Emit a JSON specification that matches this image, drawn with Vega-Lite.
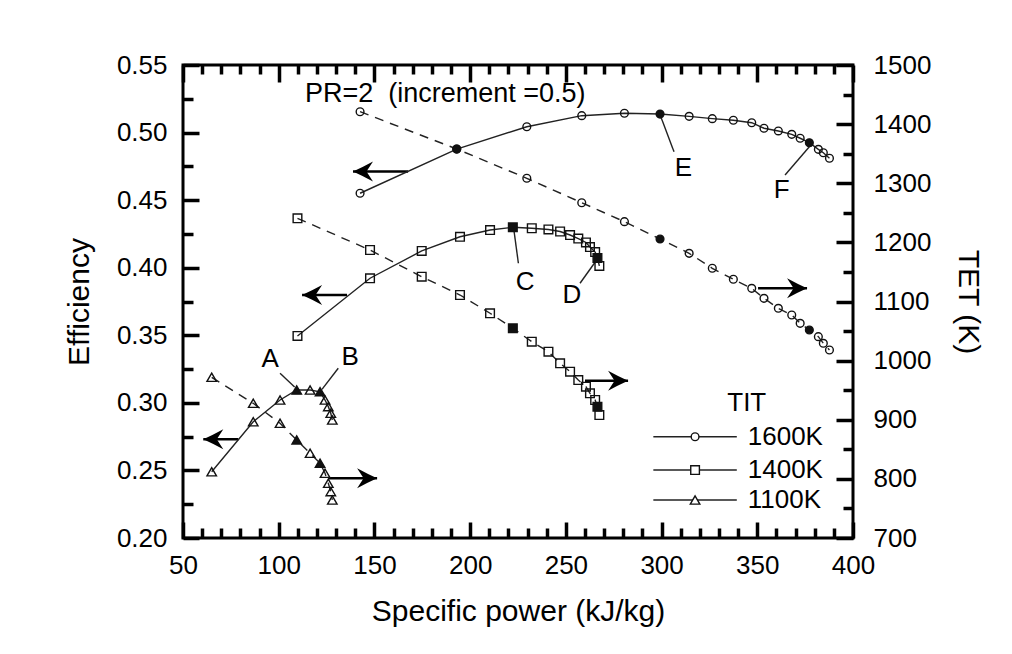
{
  "$schema": "https://vega.github.io/schema/vega-lite/v6.json",
  "width": 670,
  "height": 473,
  "autosize": {"type": "none"},
  "padding": {"left": 183, "top": 65, "right": 159, "bottom": 116},
  "background": "white",
  "config": {
    "view": {"stroke": "black", "strokeWidth": 3},
    "font": "Liberation Sans",
    "axis": {
      "labelFont": "Liberation Sans",
      "labelFontSize": 26,
      "labelColor": "black",
      "titleFont": "Liberation Sans",
      "titleFontSize": 30,
      "titleFontWeight": "normal",
      "titleColor": "black",
      "grid": false,
      "domain": false,
      "tickColor": "black",
      "tickWidth": 3.5,
      "labelOverlap": false,
      "labelFlush": false
    }
  },
  "datasets": {
    "curves": [
      {"tit": "1600K", "pr": 2.0, "power": 142.5, "eff": 0.4551, "tet": 1421.0, "filled": false},
      {"tit": "1600K", "pr": 2.5, "power": 193.0, "eff": 0.4878, "tet": 1357.9, "filled": true},
      {"tit": "1600K", "pr": 3.0, "power": 229.6, "eff": 0.5043, "tet": 1308.4, "filled": false},
      {"tit": "1600K", "pr": 3.5, "power": 258.3, "eff": 0.5125, "tet": 1267.1, "filled": false},
      {"tit": "1600K", "pr": 4.0, "power": 280.6, "eff": 0.5143, "tet": 1235.0, "filled": false},
      {"tit": "1600K", "pr": 4.5, "power": 299.2, "eff": 0.5137, "tet": 1205.7, "filled": true},
      {"tit": "1600K", "pr": 5.0, "power": 314.4, "eff": 0.5120, "tet": 1181.5, "filled": false},
      {"tit": "1600K", "pr": 5.5, "power": 326.5, "eff": 0.5103, "tet": 1156.2, "filled": false},
      {"tit": "1600K", "pr": 6.0, "power": 337.5, "eff": 0.5091, "tet": 1137.6, "filled": false},
      {"tit": "1600K", "pr": 6.5, "power": 347.1, "eff": 0.5073, "tet": 1122.3, "filled": false},
      {"tit": "1600K", "pr": 7.0, "power": 353.5, "eff": 0.5032, "tet": 1105.4, "filled": false},
      {"tit": "1600K", "pr": 7.5, "power": 361.0, "eff": 0.5012, "tet": 1088.5, "filled": false},
      {"tit": "1600K", "pr": 8.0, "power": 368.0, "eff": 0.4987, "tet": 1077.2, "filled": false},
      {"tit": "1600K", "pr": 8.5, "power": 372.4, "eff": 0.4958, "tet": 1063.1, "filled": false},
      {"tit": "1600K", "pr": 9.0, "power": 377.2, "eff": 0.4925, "tet": 1051.8, "filled": true},
      {"tit": "1600K", "pr": 9.5, "power": 381.9, "eff": 0.4876, "tet": 1040.5, "filled": false},
      {"tit": "1600K", "pr": 10.0, "power": 384.5, "eff": 0.4851, "tet": 1029.3, "filled": false},
      {"tit": "1600K", "pr": 10.5, "power": 387.7, "eff": 0.4810, "tet": 1018.0, "filled": false},
      {"tit": "1400K", "pr": 2.0, "power": 109.8, "eff": 0.3495, "tet": 1240.7, "filled": false},
      {"tit": "1400K", "pr": 2.5, "power": 147.7, "eff": 0.3922, "tet": 1187.1, "filled": false},
      {"tit": "1400K", "pr": 3.0, "power": 174.7, "eff": 0.4124, "tet": 1141.9, "filled": false},
      {"tit": "1400K", "pr": 3.5, "power": 194.7, "eff": 0.4229, "tet": 1111.0, "filled": false},
      {"tit": "1400K", "pr": 4.0, "power": 210.4, "eff": 0.4279, "tet": 1080.1, "filled": false},
      {"tit": "1400K", "pr": 4.5, "power": 222.3, "eff": 0.4299, "tet": 1054.7, "filled": true},
      {"tit": "1400K", "pr": 5.0, "power": 232.2, "eff": 0.4292, "tet": 1032.0, "filled": false},
      {"tit": "1400K", "pr": 5.5, "power": 240.9, "eff": 0.4283, "tet": 1015.1, "filled": false},
      {"tit": "1400K", "pr": 6.0, "power": 247.0, "eff": 0.4268, "tet": 995.5, "filled": false},
      {"tit": "1400K", "pr": 6.5, "power": 252.2, "eff": 0.4242, "tet": 981.3, "filled": false},
      {"tit": "1400K", "pr": 7.0, "power": 256.5, "eff": 0.4216, "tet": 967.2, "filled": false},
      {"tit": "1400K", "pr": 7.5, "power": 260.5, "eff": 0.4187, "tet": 955.9, "filled": false},
      {"tit": "1400K", "pr": 8.0, "power": 262.6, "eff": 0.4153, "tet": 944.7, "filled": false},
      {"tit": "1400K", "pr": 8.5, "power": 265.3, "eff": 0.4116, "tet": 933.4, "filled": false},
      {"tit": "1400K", "pr": 9.0, "power": 266.5, "eff": 0.4072, "tet": 922.1, "filled": true},
      {"tit": "1400K", "pr": 9.5, "power": 267.5, "eff": 0.4013, "tet": 908.0, "filled": false},
      {"tit": "1100K", "pr": 2.0, "power": 65.0, "eff": 0.2490, "tet": 971.8, "filled": false},
      {"tit": "1100K", "pr": 2.5, "power": 86.7, "eff": 0.2860, "tet": 927.8, "filled": false},
      {"tit": "1100K", "pr": 3.0, "power": 100.7, "eff": 0.3021, "tet": 894.0, "filled": false},
      {"tit": "1100K", "pr": 3.5, "power": 109.4, "eff": 0.3095, "tet": 865.8, "filled": true},
      {"tit": "1100K", "pr": 4.0, "power": 116.4, "eff": 0.3095, "tet": 843.3, "filled": false},
      {"tit": "1100K", "pr": 4.5, "power": 121.6, "eff": 0.3082, "tet": 826.4, "filled": true},
      {"tit": "1100K", "pr": 5.0, "power": 124.2, "eff": 0.3021, "tet": 809.5, "filled": false},
      {"tit": "1100K", "pr": 5.5, "power": 125.9, "eff": 0.2972, "tet": 792.6, "filled": false},
      {"tit": "1100K", "pr": 6.0, "power": 127.2, "eff": 0.2923, "tet": 778.4, "filled": false},
      {"tit": "1100K", "pr": 6.5, "power": 128.0, "eff": 0.2873, "tet": 764.3, "filled": false}
    ],
    "effArrows": [
      {"tit": "1600K", "tail": 167.6, "tip": 138.8, "eff": 0.4712},
      {"tit": "1400K", "tail": 135.7, "tip": 112.2, "eff": 0.3798},
      {"tit": "1100K", "tail": 78.9, "tip": 60.6, "eff": 0.2730}
    ],
    "tetArrows": [
      {"tit": "1600K", "tail": 350.4, "tip": 376.0, "tet": 1122.3},
      {"tit": "1400K", "tail": 260.0, "tip": 282.5, "tet": 966.1},
      {"tit": "1100K", "tail": 125.8, "tip": 151.4, "tet": 801.0}
    ],
    "leaders": [
      {"label": "A", "x1": 100.7, "y1": 0.3219, "x2": 108.3, "y2": 0.3117, "tx": 95.5, "ty": 0.3322},
      {"label": "B", "x1": 131.1, "y1": 0.3256, "x2": 122.6, "y2": 0.3100, "tx": 137.3, "ty": 0.3341},
      {"label": "C", "x1": 225.2, "y1": 0.4033, "x2": 222.9, "y2": 0.4275, "tx": 228.7, "ty": 0.3896},
      {"label": "D", "x1": 257.4, "y1": 0.3885, "x2": 266.1, "y2": 0.4057, "tx": 253.1, "ty": 0.3798},
      {"label": "E", "x1": 306.5, "y1": 0.4858, "x2": 299.6, "y2": 0.5117, "tx": 311.4, "ty": 0.4736},
      {"label": "F", "x1": 364.5, "y1": 0.4686, "x2": 377.2, "y2": 0.4895, "tx": 362.8, "ty": 0.4575}
    ],
    "note": [
      {"text": "PR=2\u00a0 (increment =0.5)", "x": 113.7, "y": 0.5285}
    ],
    "legend": [
      {"tit": "1600K", "x1": 295.7, "x2": 339.3, "xm": 317.5, "xt": 344.5, "y": 0.2749},
      {"tit": "1400K", "x1": 295.7, "x2": 339.3, "xm": 317.5, "xt": 344.5, "y": 0.2503},
      {"tit": "1100K", "x1": 295.7, "x2": 339.3, "xm": 317.5, "xt": 344.5, "y": 0.2281}
    ],
    "legendTitle": [
      {"text": "TIT", "x": 344.5, "y": 0.2997}
    ]
  },
  "layer": [
    {
      "data": {"name": "effArrows"},
      "mark": {"type": "rule", "color": "black", "strokeWidth": 2.5},
      "encoding": {
        "x": {"field": "tail", "type": "quantitative", "scale": {"domain": [50, 400], "nice": false, "zero": false}, "axis": null},
        "x2": {"field": "tip"},
        "y": {"field": "eff", "type": "quantitative", "scale": {"domain": [0.2, 0.55], "nice": false, "zero": false}, "axis": null}
      }
    },
    {
      "data": {"name": "effArrows"},
      "mark": {"type": "point", "filled": true, "color": "black", "opacity": 1, "size": 400, "shape": "M0,0Q1,-0.45 2,-1L1.35,0L2,1Q1,0.45 0,0Z"},
      "encoding": {
        "x": {"field": "tip", "type": "quantitative", "scale": {"domain": [50, 400], "nice": false, "zero": false}, "axis": null},
        "y": {"field": "eff", "type": "quantitative", "scale": {"domain": [0.2, 0.55], "nice": false, "zero": false}, "axis": null}
      }
    },
    {
      "data": {"name": "tetArrows"},
      "mark": {"type": "rule", "color": "black", "strokeWidth": 2.5},
      "encoding": {
        "x": {"field": "tail", "type": "quantitative", "scale": {"domain": [50, 400], "nice": false, "zero": false}, "axis": null},
        "x2": {"field": "tip"},
        "y": {"field": "tet", "type": "quantitative", "scale": {"domain": [700, 1500], "nice": false, "zero": false}, "axis": null}
      }
    },
    {
      "data": {"name": "tetArrows"},
      "mark": {"type": "point", "filled": true, "color": "black", "opacity": 1, "size": 400, "shape": "M0,0Q-1,-0.45 -2,-1L-1.35,0L-2,1Q-1,0.45 0,0Z"},
      "encoding": {
        "x": {"field": "tip", "type": "quantitative", "scale": {"domain": [50, 400], "nice": false, "zero": false}, "axis": null},
        "y": {"field": "tet", "type": "quantitative", "scale": {"domain": [700, 1500], "nice": false, "zero": false}, "axis": null}
      }
    },
    {
      "data": {"name": "leaders"},
      "mark": {"type": "rule", "color": "#222", "strokeWidth": 1.4},
      "encoding": {
        "x": {"field": "x1", "type": "quantitative", "scale": {"domain": [50, 400], "nice": false, "zero": false}, "axis": null},
        "x2": {"field": "x2"},
        "y": {"field": "y1", "type": "quantitative", "scale": {"domain": [0.2, 0.55], "nice": false, "zero": false}, "axis": null},
        "y2": {"field": "y2"}
      }
    },
    {
      "data": {"name": "leaders"},
      "mark": {"type": "text", "fontSize": 26, "align": "center", "baseline": "middle", "color": "black", "font": "Liberation Sans"},
      "encoding": {
        "x": {"field": "tx", "type": "quantitative", "scale": {"domain": [50, 400], "nice": false, "zero": false}, "axis": null},
        "y": {"field": "ty", "type": "quantitative", "scale": {"domain": [0.2, 0.55], "nice": false, "zero": false}, "axis": null},
        "text": {"field": "label"}
      }
    },
    {
      "data": {"name": "note"},
      "mark": {"type": "text", "fontSize": 27, "align": "left", "baseline": "middle", "color": "black", "font": "Liberation Sans"},
      "encoding": {
        "x": {"field": "x", "type": "quantitative", "scale": {"domain": [50, 400], "nice": false, "zero": false}, "axis": null},
        "y": {"field": "y", "type": "quantitative", "scale": {"domain": [0.2, 0.55], "nice": false, "zero": false}, "axis": null},
        "text": {"field": "text"}
      }
    },
    {
      "data": {"name": "legend"},
      "mark": {"type": "rule", "color": "#222", "strokeWidth": 1.6},
      "encoding": {
        "x": {"field": "x1", "type": "quantitative", "scale": {"domain": [50, 400], "nice": false, "zero": false}, "axis": null},
        "x2": {"field": "x2"},
        "y": {"field": "y", "type": "quantitative", "scale": {"domain": [0.2, 0.55], "nice": false, "zero": false}, "axis": null}
      }
    },
    {
      "data": {"name": "legend"},
      "mark": {"type": "point", "filled": true, "fill": "white", "stroke": "#111", "strokeWidth": 1.4, "opacity": 1},
      "encoding": {
        "x": {"field": "xm", "type": "quantitative", "scale": {"domain": [50, 400], "nice": false, "zero": false}, "axis": null},
        "y": {"field": "y", "type": "quantitative", "scale": {"domain": [0.2, 0.55], "nice": false, "zero": false}, "axis": null},
        "shape": {"field": "tit", "type": "nominal", "scale": {"domain": ["1600K", "1400K", "1100K"], "range": ["circle", "square", "triangle-up"]}, "legend": null},
        "size": {"field": "tit", "type": "nominal", "scale": {"domain": ["1600K", "1400K", "1100K"], "range": [60, 90, 80]}, "legend": null}
      }
    },
    {
      "data": {"name": "legend"},
      "mark": {"type": "text", "fontSize": 26, "align": "left", "baseline": "middle", "dx": 1, "color": "black", "font": "Liberation Sans"},
      "encoding": {
        "x": {"field": "xt", "type": "quantitative", "scale": {"domain": [50, 400], "nice": false, "zero": false}, "axis": null},
        "y": {"field": "y", "type": "quantitative", "scale": {"domain": [0.2, 0.55], "nice": false, "zero": false}, "axis": null},
        "text": {"field": "tit"}
      }
    },
    {
      "data": {"name": "legendTitle"},
      "mark": {"type": "text", "fontSize": 26, "align": "center", "baseline": "middle", "color": "black", "font": "Liberation Sans"},
      "encoding": {
        "x": {"field": "x", "type": "quantitative", "scale": {"domain": [50, 400], "nice": false, "zero": false}, "axis": null},
        "y": {"field": "y", "type": "quantitative", "scale": {"domain": [0.2, 0.55], "nice": false, "zero": false}, "axis": null},
        "text": {"field": "text"}
      }
    },
    {
      "data": {"name": "curves"},
      "mark": {"type": "line", "color": "#222", "strokeWidth": 1.4},
      "encoding": {
        "x": {"field": "power", "type": "quantitative", "scale": {"domain": [50, 400], "nice": false, "zero": false},
          "axis": {"orient": "bottom", "values": [50, 100, 150, 200, 250, 300, 350, 400], "tickSize": -16, "labelPadding": 30, "title": "Specific power (kJ/kg)", "titlePadding": 18}},
        "y": {"field": "eff", "type": "quantitative", "scale": {"domain": [0.2, 0.55], "nice": false, "zero": false},
          "axis": {"orient": "left", "values": [0.2, 0.25, 0.3, 0.35, 0.4, 0.45, 0.5, 0.55], "format": ".2f", "tickSize": -16, "labelPadding": 32, "title": "Efficiency", "titlePadding": 22}},
        "detail": {"field": "tit"},
        "order": {"field": "pr"}
      }
    },
    {
      "data": {"name": "curves"},
      "mark": {"type": "line", "color": "#222", "strokeWidth": 1.4, "strokeDash": [9, 7]},
      "encoding": {
        "x": {"field": "power", "type": "quantitative", "scale": {"domain": [50, 400], "nice": false, "zero": false},
          "axis": {"orient": "top", "values": [50, 100, 150, 200, 250, 300, 350, 400], "tickSize": -17, "labels": false, "title": null}},
        "y": {"field": "tet", "type": "quantitative", "scale": {"domain": [700, 1500], "nice": false, "zero": false},
          "axis": {"orient": "right", "values": [700, 800, 900, 1000, 1100, 1200, 1300, 1400, 1500], "format": "d", "tickSize": -17, "labelPadding": 37, "title": "TET (K)", "titlePadding": 22}},
        "detail": {"field": "tit"},
        "order": {"field": "pr"}
      }
    },
    {
      "data": {"name": "curves"},
      "mark": {"type": "point", "filled": true, "stroke": "#111", "strokeWidth": 1.4, "opacity": 1},
      "encoding": {
        "x": {"field": "power", "type": "quantitative", "scale": {"domain": [50, 400], "nice": false, "zero": false},
          "axis": {"orient": "bottom", "values": [60, 70, 80, 90, 110, 120, 130, 140, 160, 170, 180, 190, 210, 220, 230, 240, 260, 270, 280, 290, 310, 320, 330, 340, 360, 370, 380, 390], "tickSize": -10, "labels": false, "title": null}},
        "y": {"field": "eff", "type": "quantitative", "scale": {"domain": [0.2, 0.55], "nice": false, "zero": false},
          "axis": {"orient": "left", "values": [0.225, 0.275, 0.325, 0.375, 0.425, 0.475, 0.525], "tickSize": -10, "labels": false, "title": null}},
        "shape": {"field": "tit", "type": "nominal", "scale": {"domain": ["1600K", "1400K", "1100K"], "range": ["circle", "square", "triangle-up"]}, "legend": null},
        "size": {"field": "tit", "type": "nominal", "scale": {"domain": ["1600K", "1400K", "1100K"], "range": [60, 90, 80]}, "legend": null},
        "fill": {"condition": {"test": "datum.filled", "value": "#111"}, "value": "transparent"}
      }
    },
    {
      "data": {"name": "curves"},
      "mark": {"type": "point", "filled": true, "stroke": "#111", "strokeWidth": 1.4, "opacity": 1},
      "encoding": {
        "x": {"field": "power", "type": "quantitative", "scale": {"domain": [50, 400], "nice": false, "zero": false},
          "axis": {"orient": "top", "values": [60, 70, 80, 90, 110, 120, 130, 140, 160, 170, 180, 190, 210, 220, 230, 240, 260, 270, 280, 290, 310, 320, 330, 340, 360, 370, 380, 390], "tickSize": -9, "labels": false, "title": null}},
        "y": {"field": "tet", "type": "quantitative", "scale": {"domain": [700, 1500], "nice": false, "zero": false},
          "axis": {"orient": "right", "values": [750, 850, 950, 1050, 1150, 1250, 1350, 1450], "tickSize": -10, "labels": false, "title": null}},
        "shape": {"field": "tit", "type": "nominal", "scale": {"domain": ["1600K", "1400K", "1100K"], "range": ["circle", "square", "triangle-up"]}, "legend": null},
        "size": {"field": "tit", "type": "nominal", "scale": {"domain": ["1600K", "1400K", "1100K"], "range": [60, 90, 80]}, "legend": null},
        "fill": {"condition": {"test": "datum.filled", "value": "#111"}, "value": "transparent"}
      }
    }
  ],
  "resolve": {"scale": {"x": "independent", "y": "independent"}, "axis": {"x": "independent", "y": "independent"}}
}
